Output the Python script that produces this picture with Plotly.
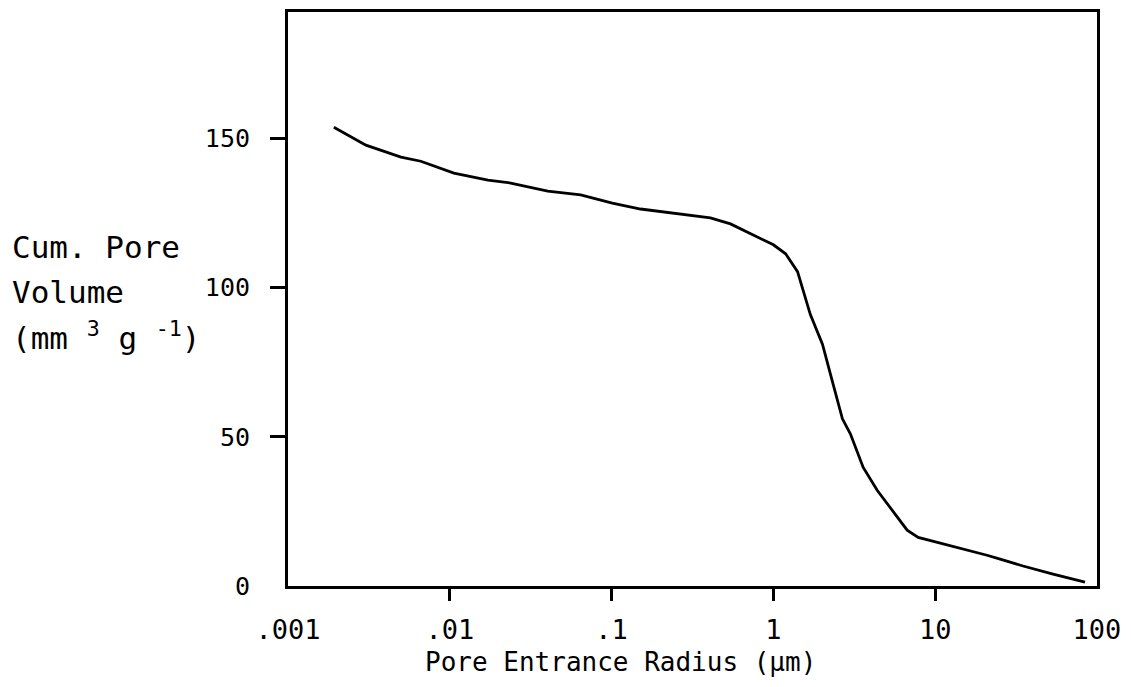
import plotly.graph_objects as go

# Pore entrance radius (µm) and cumulative pore volume (mm^3 g^-1)
radius = [0.00192, 0.00303, 0.00499, 0.00662, 0.0106, 0.0172, 0.0238, 0.0303, 0.0403,
          0.0644, 0.101, 0.151, 0.267, 0.408, 0.543, 0.722, 1.0, 1.19, 1.41, 1.69,
          2.01, 2.31, 2.67, 2.99, 3.59, 4.39, 5.27, 6.71, 7.85, 10.3, 12.9, 15.8,
          20.9, 25.2, 34.9, 53.5, 84.3]
volume = [153.7, 147.7, 143.7, 142.3, 138.3, 136.0, 135.0, 133.7, 132.3,
          131.0, 128.3, 126.3, 124.7, 123.3, 121.3, 118.0, 114.3, 111.3, 105.3, 91.0,
          81.0, 68.7, 56.0, 51.0, 39.7, 32.0, 26.3, 18.7, 16.3, 14.7, 13.3, 12.0,
          10.3, 9.0, 6.7, 4.0, 1.3]

x_tickvals = [0.001, 0.01, 0.1, 1, 10, 100]
x_ticktext = [".001", ".01", ".1", "1", "10", "100"]
x_marks = [0.01, 0.1, 1, 10]
y_tickvals = [0, 50, 100, 150]
y_ticktext = ["0", "50", "100", "150"]
y_marks = [50, 100, 150]

FONT = "DejaVu Sans Mono"

fig = go.Figure()
fig.add_trace(go.Scatter(x=radius, y=volume, mode="lines",
                         line=dict(color="black", width=2.8),
                         showlegend=False, hoverinfo="skip"))

# page body has an 8px margin; size the figure so it fits the 1131x687 window
fig.update_layout(
    width=1123, height=679,
    margin=dict(l=280, r=34, t=1, b=101),
    paper_bgcolor="white", plot_bgcolor="white",
    font=dict(family=FONT, color="black", size=24),
    xaxis=dict(type="log", range=[-3, 2], tickmode="array",
               tickvals=x_tickvals, ticktext=x_ticktext, ticks="",
               ticklabelstandoff=18,
               showline=True, linecolor="black", linewidth=3, mirror=True,
               showgrid=False, zeroline=False,
               tickfont=dict(family=FONT, size=27),
               minor=dict(tickmode="array", tickvals=x_marks, ticks="outside",
                          ticklen=12, tickwidth=3, tickcolor="black", showgrid=False)),
    yaxis=dict(range=[0, 192.3], tickmode="array",
               tickvals=y_tickvals, ticktext=y_ticktext, ticks="",
               ticklabelstandoff=30,
               showline=True, linecolor="black", linewidth=3, mirror=True,
               showgrid=False, zeroline=False,
               tickfont=dict(family=FONT, size=25),
               minor=dict(tickmode="array", tickvals=y_marks, ticks="outside",
                          ticklen=15, tickwidth=3, tickcolor="black", showgrid=False)),
)

fig.add_annotation(text="Pore Entrance Radius (\u00b5m)", xref="paper", yref="paper",
                   x=0.411, y=-0.132, xanchor="center", yanchor="middle",
                   showarrow=False, font=dict(family=FONT, size=26))

for txt, yp in [("Cum. Pore", 245), ("Volume", 290), ("(mm <sup>3</sup> g <sup>-1</sup>)", 335)]:
    fig.add_annotation(text=txt, xref="paper", yref="paper",
                       x=(2 - 280) / 810, y=(578 - (yp - 8)) / 577,
                       xanchor="left", yanchor="middle", align="left",
                       showarrow=False, font=dict(family=FONT, size=31))

fig.write_html("out.html")
